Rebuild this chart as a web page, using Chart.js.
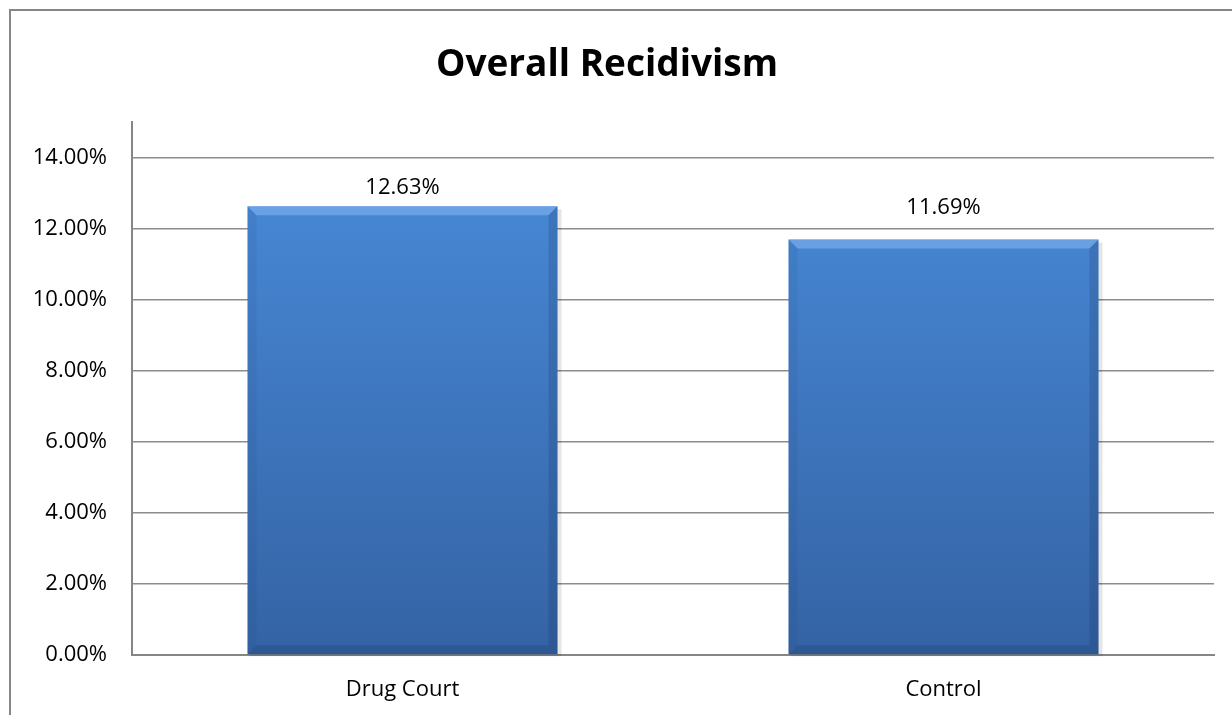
<!DOCTYPE html>
<html>
<head>
<meta charset="utf-8">
<script src="https://cdn.jsdelivr.net/npm/chart.js@4/dist/chart.umd.min.js"></script>
<style>
    html, body { margin: 0; padding: 0; background: #fff; overflow: hidden; }
    #wrap { position: relative; width: 1232px; height: 715px; }
    #frame { position: absolute; left: 9px; top: 9px; width: 1240px; height: 720px; border: 2px solid #868686; box-sizing: border-box; }
    canvas { position: absolute; left: 0; top: 0; }
</style>
</head>
<body>
<div id="wrap">
    <div id="frame"></div>
    <canvas id="chart" width="1232" height="715"></canvas>
</div>
<script>
const categories = ['Drug Court', 'Control']
const recidivism = [12.63, 11.69]
const yTicks = [0, 2, 4, 6, 8, 10, 12, 14]

const FONT = "'Open Sans', 'Liberation Sans', sans-serif"

// bar fill: lighter blue at the top, darker at the base
function barGradient(context) {
    const chart = context.chart
    const area = chart.chartArea
    if (!area) return '#3f7cc8'
    const g = chart.ctx.createLinearGradient(0, area.top, 0, area.bottom)
    g.addColorStop(0, '#4a8ddc')
    g.addColorStop(1, '#3463a4')
    return g
}

// bevel edges, shadow and value labels on top of each bar
const barDecor = {
    id: 'barDecor',
    beforeDatasetsDraw(chart) {
        const ctx = chart.ctx
        chart.getDatasetMeta(0).data.forEach(bar => {
            const l = bar.x - bar.width / 2
            ctx.save()
            ctx.fillStyle = 'rgba(0,0,0,0.10)'
            ctx.fillRect(l + 2, bar.y + 3, bar.width + 2, bar.base - bar.y - 1)
            ctx.restore()
        })
    },
    afterDatasetsDraw(chart) {
        const ctx = chart.ctx
        const b = 9
        chart.getDatasetMeta(0).data.forEach((bar, i) => {
            const l = bar.x - bar.width / 2, r = bar.x + bar.width / 2
            const t = bar.y, bt = bar.base
            ctx.save()
            // top bevel
            ctx.beginPath()
            ctx.moveTo(l, t); ctx.lineTo(r, t); ctx.lineTo(r - b, t + b); ctx.lineTo(l + b, t + b); ctx.closePath()
            ctx.fillStyle = 'rgba(140,190,245,0.5)'
            ctx.fill()
            // left bevel
            ctx.beginPath()
            ctx.moveTo(l, t); ctx.lineTo(l + b, t + b); ctx.lineTo(l + b, bt - b); ctx.lineTo(l, bt); ctx.closePath()
            ctx.fillStyle = 'rgba(20,50,100,0.08)'
            ctx.fill()
            // right bevel
            ctx.beginPath()
            ctx.moveTo(r, t); ctx.lineTo(r - b, t + b); ctx.lineTo(r - b, bt - b); ctx.lineTo(r, bt); ctx.closePath()
            ctx.fillStyle = 'rgba(10,30,70,0.16)'
            ctx.fill()
            // bottom bevel
            ctx.beginPath()
            ctx.moveTo(l, bt); ctx.lineTo(l + b, bt - b); ctx.lineTo(r - b, bt - b); ctx.lineTo(r, bt); ctx.closePath()
            ctx.fillStyle = 'rgba(10,30,70,0.16)'
            ctx.fill()

            ctx.fillStyle = '#000'
            ctx.font = '22px ' + FONT
            ctx.textAlign = 'center'
            ctx.textBaseline = 'middle'
            ctx.fillText(recidivism[i].toFixed(2) + '%', bar.x, t - (i === 0 ? 18 : 32))
            ctx.restore()
        })
    }
}

const ctx = document.getElementById('chart').getContext('2d')
new Chart(ctx, {
    type: 'bar',
    data: {
        labels: categories,
        datasets: [{
            data: recidivism,
            backgroundColor: barGradient,
            borderWidth: 0,
            barPercentage: 0.573,
            categoryPercentage: 1
        }]
    },
    plugins: [barDecor],
    options: {
        responsive: false,
        animation: false,
        layout: { padding: { left: 0, right: 18, top: 0, bottom: 0 } },
        plugins: {
            legend: { display: false },
            tooltip: { enabled: false },
            title: {
                display: true,
                text: 'Overall Recidivism',
                color: '#000',
                font: { family: FONT, size: 37, weight: 'bold', lineHeight: 1.2 },
                padding: { top: 43, bottom: 34.6 }
            }
        },
        scales: {
            x: {
                grid: { display: false, drawTicks: false },
                border: { display: true, color: '#868686', width: 2 },
                ticks: { color: '#000', font: { family: FONT, size: 22 }, padding: 22 },
                afterFit(scale) { scale.height = 60 }
            },
            y: {
                min: 0,
                max: 15,
                afterBuildTicks(scale) { scale.ticks = yTicks.map(v => ({ value: v })) },
                grid: { color: '#8c8c8c', lineWidth: 1.5, drawTicks: false },
                border: { display: true, color: '#868686', width: 2 },
                ticks: {
                    color: '#000',
                    font: { family: FONT, size: 22 },
                    padding: 25,
                    callback: v => v.toFixed(2) + '%'
                },
                afterFit(scale) { scale.width = 132 }
            }
        }
    }
})
</script>
</body>
</html>
